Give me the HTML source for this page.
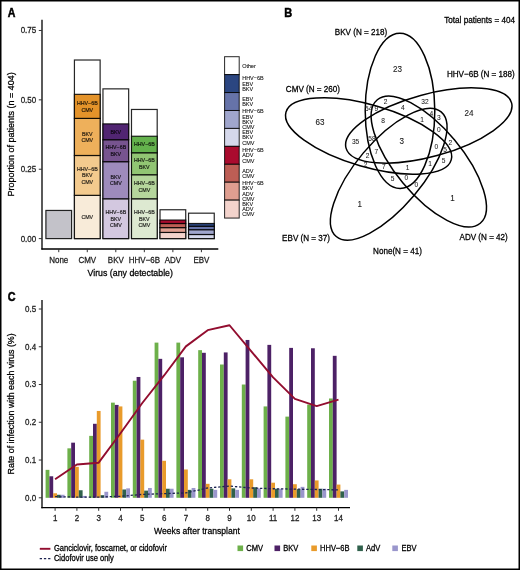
<!DOCTYPE html>
<html><head><meta charset="utf-8"><style>
html,body{margin:0;padding:0;background:#fff;overflow:hidden;}
svg{display:block;will-change:transform;}
text{font-family:"Liberation Sans",sans-serif;}
</style></head><body>
<svg width="520" height="570" viewBox="0 0 520 570" font-family="Liberation Sans, sans-serif">
<rect width="520" height="570" fill="#fff"/>
<text transform="translate(7.70,16.70) scale(1,1.12)" font-size="10.6" text-anchor="start" fill="#000" stroke="#000" stroke-width="0.45" font-weight="bold" >A</text>
<line x1="42.00" y1="19.80" x2="42.00" y2="249.60" stroke="#000" stroke-width="1.3" />
<line x1="41.35" y1="249.00" x2="218.30" y2="249.00" stroke="#000" stroke-width="1.3" />
<line x1="38.80" y1="30.47" x2="42.00" y2="30.47" stroke="#333" stroke-width="1.0" />
<text transform="translate(36.20,33.37) scale(1,1.1)" font-size="8.0" text-anchor="end" fill="#222" stroke="#222" stroke-width="0.25" font-weight="normal" >0.75</text>
<line x1="38.80" y1="99.85" x2="42.00" y2="99.85" stroke="#333" stroke-width="1.0" />
<text transform="translate(36.20,102.75) scale(1,1.1)" font-size="8.0" text-anchor="end" fill="#222" stroke="#222" stroke-width="0.25" font-weight="normal" >0.50</text>
<line x1="38.80" y1="169.22" x2="42.00" y2="169.22" stroke="#333" stroke-width="1.0" />
<text transform="translate(36.20,172.12) scale(1,1.1)" font-size="8.0" text-anchor="end" fill="#222" stroke="#222" stroke-width="0.25" font-weight="normal" >0.25</text>
<line x1="38.80" y1="238.60" x2="42.00" y2="238.60" stroke="#333" stroke-width="1.0" />
<text transform="translate(36.20,241.50) scale(1,1.1)" font-size="8.0" text-anchor="end" fill="#222" stroke="#222" stroke-width="0.25" font-weight="normal" >0.00</text>
<line x1="58.75" y1="249.00" x2="58.75" y2="252.20" stroke="#333" stroke-width="1.0" />
<text transform="translate(58.75,262.70) scale(1,1.1)" font-size="8.0" text-anchor="middle" fill="#222" stroke="#222" stroke-width="0.25" font-weight="normal" >None</text>
<line x1="87.28" y1="249.00" x2="87.28" y2="252.20" stroke="#333" stroke-width="1.0" />
<text transform="translate(87.28,262.70) scale(1,1.1)" font-size="8.0" text-anchor="middle" fill="#222" stroke="#222" stroke-width="0.25" font-weight="normal" >CMV</text>
<line x1="115.81" y1="249.00" x2="115.81" y2="252.20" stroke="#333" stroke-width="1.0" />
<text transform="translate(115.81,262.70) scale(1,1.1)" font-size="8.0" text-anchor="middle" fill="#222" stroke="#222" stroke-width="0.25" font-weight="normal" >BKV</text>
<line x1="144.34" y1="249.00" x2="144.34" y2="252.20" stroke="#333" stroke-width="1.0" />
<text transform="translate(144.34,262.70) scale(1,1.1)" font-size="8.0" text-anchor="middle" fill="#222" stroke="#222" stroke-width="0.25" font-weight="normal" >HHV−6B</text>
<line x1="172.87" y1="249.00" x2="172.87" y2="252.20" stroke="#333" stroke-width="1.0" />
<text transform="translate(172.87,262.70) scale(1,1.1)" font-size="8.0" text-anchor="middle" fill="#222" stroke="#222" stroke-width="0.25" font-weight="normal" >ADV</text>
<line x1="201.40" y1="249.00" x2="201.40" y2="252.20" stroke="#333" stroke-width="1.0" />
<text transform="translate(201.40,262.70) scale(1,1.1)" font-size="8.0" text-anchor="middle" fill="#222" stroke="#222" stroke-width="0.25" font-weight="normal" >EBV</text>
<text transform="translate(130.20,276.00) scale(1,1.1)" font-size="8.8" text-anchor="middle" fill="#000" stroke="#000" stroke-width="0.25" font-weight="normal" >Virus (any detectable)</text>
<text transform="translate(14.10,134.40) rotate(-90) scale(1,1.1)" font-size="9.0" text-anchor="middle" fill="#000" stroke="#000" stroke-width="0.25" font-weight="normal" >Proportion of patients (n = 404)</text>
<rect x="45.90" y="210.44" width="25.70" height="28.16" fill="#c3c2c9" stroke="rgba(0,0,0,0.85)" stroke-width="1.2" />
<rect x="74.43" y="60.01" width="25.70" height="178.59" fill="#ffffff" stroke="rgba(0,0,0,0.85)" stroke-width="1.2" />
<rect x="74.43" y="195.33" width="25.70" height="43.27" fill="#f8ebd9" stroke="rgba(0,0,0,0.85)" stroke-width="1.2" />
<text transform="translate(87.28,218.86) scale(1,1.1)" font-size="5.3" text-anchor="middle" fill="#000" stroke="#000" stroke-width="0.2" font-weight="normal" fill-opacity="0.8" stroke-opacity="0.8">CMV</text>
<rect x="74.43" y="155.49" width="25.70" height="39.84" fill="#f3ca8e" stroke="rgba(0,0,0,0.85)" stroke-width="1.2" />
<text transform="translate(87.28,170.71) scale(1,1.1)" font-size="5.3" text-anchor="middle" fill="#000" stroke="#000" stroke-width="0.2" font-weight="normal" fill-opacity="0.8" stroke-opacity="0.8">HHV−6B</text>
<text transform="translate(87.28,177.31) scale(1,1.1)" font-size="5.3" text-anchor="middle" fill="#000" stroke="#000" stroke-width="0.2" font-weight="normal" fill-opacity="0.8" stroke-opacity="0.8">BKV</text>
<text transform="translate(87.28,183.91) scale(1,1.1)" font-size="5.3" text-anchor="middle" fill="#000" stroke="#000" stroke-width="0.2" font-weight="normal" fill-opacity="0.8" stroke-opacity="0.8">CMV</text>
<rect x="74.43" y="118.39" width="25.70" height="37.09" fill="#eeb05b" stroke="rgba(0,0,0,0.85)" stroke-width="1.2" />
<text transform="translate(87.28,135.54) scale(1,1.1)" font-size="5.3" text-anchor="middle" fill="#000" stroke="#000" stroke-width="0.2" font-weight="normal" fill-opacity="0.8" stroke-opacity="0.8">BKV</text>
<text transform="translate(87.28,142.14) scale(1,1.1)" font-size="5.3" text-anchor="middle" fill="#000" stroke="#000" stroke-width="0.2" font-weight="normal" fill-opacity="0.8" stroke-opacity="0.8">CMV</text>
<rect x="74.43" y="94.35" width="25.70" height="24.04" fill="#e4932a" stroke="rgba(0,0,0,0.85)" stroke-width="1.2" />
<text transform="translate(87.28,104.97) scale(1,1.1)" font-size="5.3" text-anchor="middle" fill="#000" stroke="#000" stroke-width="0.2" font-weight="normal" fill-opacity="0.8" stroke-opacity="0.8">HHV−6B</text>
<text transform="translate(87.28,111.57) scale(1,1.1)" font-size="5.3" text-anchor="middle" fill="#000" stroke="#000" stroke-width="0.2" font-weight="normal" fill-opacity="0.8" stroke-opacity="0.8">CMV</text>
<rect x="102.96" y="88.86" width="25.70" height="149.74" fill="#ffffff" stroke="rgba(0,0,0,0.85)" stroke-width="1.2" />
<rect x="102.96" y="198.76" width="25.70" height="39.84" fill="#d3c8e0" stroke="rgba(0,0,0,0.85)" stroke-width="1.2" />
<text transform="translate(115.81,213.98) scale(1,1.1)" font-size="5.3" text-anchor="middle" fill="#000" stroke="#000" stroke-width="0.2" font-weight="normal" fill-opacity="0.8" stroke-opacity="0.8">HHV−6B</text>
<text transform="translate(115.81,220.58) scale(1,1.1)" font-size="5.3" text-anchor="middle" fill="#000" stroke="#000" stroke-width="0.2" font-weight="normal" fill-opacity="0.8" stroke-opacity="0.8">BKV</text>
<text transform="translate(115.81,227.18) scale(1,1.1)" font-size="5.3" text-anchor="middle" fill="#000" stroke="#000" stroke-width="0.2" font-weight="normal" fill-opacity="0.8" stroke-opacity="0.8">CMV</text>
<rect x="102.96" y="161.67" width="25.70" height="37.09" fill="#9e8bbc" stroke="rgba(0,0,0,0.85)" stroke-width="1.2" />
<text transform="translate(115.81,178.81) scale(1,1.1)" font-size="5.3" text-anchor="middle" fill="#000" stroke="#000" stroke-width="0.2" font-weight="normal" fill-opacity="0.8" stroke-opacity="0.8">BKV</text>
<text transform="translate(115.81,185.41) scale(1,1.1)" font-size="5.3" text-anchor="middle" fill="#000" stroke="#000" stroke-width="0.2" font-weight="normal" fill-opacity="0.8" stroke-opacity="0.8">CMV</text>
<rect x="102.96" y="139.69" width="25.70" height="21.98" fill="#77548f" stroke="rgba(0,0,0,0.85)" stroke-width="1.2" />
<text transform="translate(115.81,149.28) scale(1,1.1)" font-size="5.3" text-anchor="middle" fill="#000" stroke="#000" stroke-width="0.2" font-weight="normal" fill-opacity="0.8" stroke-opacity="0.8">HHV−6B</text>
<text transform="translate(115.81,155.88) scale(1,1.1)" font-size="5.3" text-anchor="middle" fill="#000" stroke="#000" stroke-width="0.2" font-weight="normal" fill-opacity="0.8" stroke-opacity="0.8">BKV</text>
<rect x="102.96" y="123.89" width="25.70" height="15.80" fill="#512572" stroke="rgba(0,0,0,0.85)" stroke-width="1.2" />
<text transform="translate(115.81,133.69) scale(1,1.1)" font-size="5.3" text-anchor="middle" fill="#000" stroke="#000" stroke-width="0.2" font-weight="normal" fill-opacity="0.8" stroke-opacity="0.8">BKV</text>
<rect x="131.49" y="109.46" width="25.70" height="129.14" fill="#ffffff" stroke="rgba(0,0,0,0.85)" stroke-width="1.2" />
<rect x="131.49" y="198.76" width="25.70" height="39.84" fill="#dde9d1" stroke="rgba(0,0,0,0.85)" stroke-width="1.2" />
<text transform="translate(144.34,213.98) scale(1,1.1)" font-size="5.3" text-anchor="middle" fill="#000" stroke="#000" stroke-width="0.2" font-weight="normal" fill-opacity="0.8" stroke-opacity="0.8">HHV−6B</text>
<text transform="translate(144.34,220.58) scale(1,1.1)" font-size="5.3" text-anchor="middle" fill="#000" stroke="#000" stroke-width="0.2" font-weight="normal" fill-opacity="0.8" stroke-opacity="0.8">BKV</text>
<text transform="translate(144.34,227.18) scale(1,1.1)" font-size="5.3" text-anchor="middle" fill="#000" stroke="#000" stroke-width="0.2" font-weight="normal" fill-opacity="0.8" stroke-opacity="0.8">CMV</text>
<rect x="131.49" y="174.72" width="25.70" height="24.04" fill="#b5d69c" stroke="rgba(0,0,0,0.85)" stroke-width="1.2" />
<text transform="translate(144.34,185.34) scale(1,1.1)" font-size="5.3" text-anchor="middle" fill="#000" stroke="#000" stroke-width="0.2" font-weight="normal" fill-opacity="0.8" stroke-opacity="0.8">HHV−6B</text>
<text transform="translate(144.34,191.94) scale(1,1.1)" font-size="5.3" text-anchor="middle" fill="#000" stroke="#000" stroke-width="0.2" font-weight="normal" fill-opacity="0.8" stroke-opacity="0.8">CMV</text>
<rect x="131.49" y="152.74" width="25.70" height="21.98" fill="#91c573" stroke="rgba(0,0,0,0.85)" stroke-width="1.2" />
<text transform="translate(144.34,162.33) scale(1,1.1)" font-size="5.3" text-anchor="middle" fill="#000" stroke="#000" stroke-width="0.2" font-weight="normal" fill-opacity="0.8" stroke-opacity="0.8">HHV−6B</text>
<text transform="translate(144.34,168.93) scale(1,1.1)" font-size="5.3" text-anchor="middle" fill="#000" stroke="#000" stroke-width="0.2" font-weight="normal" fill-opacity="0.8" stroke-opacity="0.8">BKV</text>
<rect x="131.49" y="136.25" width="25.70" height="16.49" fill="#64b24d" stroke="rgba(0,0,0,0.85)" stroke-width="1.2" />
<text transform="translate(144.34,146.39) scale(1,1.1)" font-size="5.3" text-anchor="middle" fill="#000" stroke="#000" stroke-width="0.2" font-weight="normal" fill-opacity="0.8" stroke-opacity="0.8">HHV−6B</text>
<rect x="160.02" y="209.75" width="25.70" height="28.85" fill="#ffffff" stroke="rgba(0,0,0,0.85)" stroke-width="1.2" />
<rect x="160.02" y="232.42" width="25.70" height="6.18" fill="#f3d3cc" stroke="rgba(0,0,0,0.85)" stroke-width="1.2" />
<rect x="160.02" y="227.61" width="25.70" height="4.81" fill="#df9e90" stroke="rgba(0,0,0,0.85)" stroke-width="1.2" />
<rect x="160.02" y="223.49" width="25.70" height="4.12" fill="#bd5e55" stroke="rgba(0,0,0,0.85)" stroke-width="1.2" />
<rect x="160.02" y="220.05" width="25.70" height="3.43" fill="#aa0b2e" stroke="rgba(0,0,0,0.85)" stroke-width="1.2" />
<rect x="188.55" y="213.18" width="25.70" height="25.42" fill="#ffffff" stroke="rgba(0,0,0,0.85)" stroke-width="1.2" />
<rect x="188.55" y="234.48" width="25.70" height="4.12" fill="#d5d8eb" stroke="rgba(0,0,0,0.85)" stroke-width="1.2" />
<rect x="188.55" y="229.67" width="25.70" height="4.81" fill="#a0a6cd" stroke="rgba(0,0,0,0.85)" stroke-width="1.2" />
<rect x="188.55" y="226.24" width="25.70" height="3.43" fill="#6673a9" stroke="rgba(0,0,0,0.85)" stroke-width="1.2" />
<rect x="188.55" y="223.49" width="25.70" height="2.75" fill="#2b4681" stroke="rgba(0,0,0,0.85)" stroke-width="1.2" />
<rect x="224.60" y="56.70" width="14.60" height="17.93" fill="#ffffff" stroke="rgba(0,0,0,0.85)" stroke-width="1.0" />
<text transform="translate(242.20,67.57) scale(1,1.1)" font-size="5.5" text-anchor="start" fill="#000" stroke="#000" stroke-width="0.05" font-weight="normal" >Other</text>
<rect x="224.60" y="74.63" width="14.60" height="17.93" fill="#2b4681" stroke="rgba(0,0,0,0.85)" stroke-width="1.0" />
<text transform="translate(242.20,80.20) scale(1,1.1)" font-size="5.5" text-anchor="start" fill="#000" stroke="#000" stroke-width="0.05" font-weight="normal" >HHV−6B</text>
<text transform="translate(242.20,85.50) scale(1,1.1)" font-size="5.5" text-anchor="start" fill="#000" stroke="#000" stroke-width="0.05" font-weight="normal" >EBV</text>
<text transform="translate(242.20,90.80) scale(1,1.1)" font-size="5.5" text-anchor="start" fill="#000" stroke="#000" stroke-width="0.05" font-weight="normal" >BKV</text>
<rect x="224.60" y="92.56" width="14.60" height="17.93" fill="#6673a9" stroke="rgba(0,0,0,0.85)" stroke-width="1.0" />
<text transform="translate(242.20,100.78) scale(1,1.1)" font-size="5.5" text-anchor="start" fill="#000" stroke="#000" stroke-width="0.05" font-weight="normal" >EBV</text>
<text transform="translate(242.20,106.08) scale(1,1.1)" font-size="5.5" text-anchor="start" fill="#000" stroke="#000" stroke-width="0.05" font-weight="normal" >BKV</text>
<rect x="224.60" y="110.49" width="14.60" height="17.93" fill="#a0a6cd" stroke="rgba(0,0,0,0.85)" stroke-width="1.0" />
<text transform="translate(242.20,113.41) scale(1,1.1)" font-size="5.5" text-anchor="start" fill="#000" stroke="#000" stroke-width="0.05" font-weight="normal" >HHV−6B</text>
<text transform="translate(242.20,118.71) scale(1,1.1)" font-size="5.5" text-anchor="start" fill="#000" stroke="#000" stroke-width="0.05" font-weight="normal" >EBV</text>
<text transform="translate(242.20,124.01) scale(1,1.1)" font-size="5.5" text-anchor="start" fill="#000" stroke="#000" stroke-width="0.05" font-weight="normal" >BKV</text>
<text transform="translate(242.20,129.31) scale(1,1.1)" font-size="5.5" text-anchor="start" fill="#000" stroke="#000" stroke-width="0.05" font-weight="normal" >CMV</text>
<rect x="224.60" y="128.42" width="14.60" height="17.93" fill="#d5d8eb" stroke="rgba(0,0,0,0.85)" stroke-width="1.0" />
<text transform="translate(242.20,133.99) scale(1,1.1)" font-size="5.5" text-anchor="start" fill="#000" stroke="#000" stroke-width="0.05" font-weight="normal" >EBV</text>
<text transform="translate(242.20,139.29) scale(1,1.1)" font-size="5.5" text-anchor="start" fill="#000" stroke="#000" stroke-width="0.05" font-weight="normal" >BKV</text>
<text transform="translate(242.20,144.59) scale(1,1.1)" font-size="5.5" text-anchor="start" fill="#000" stroke="#000" stroke-width="0.05" font-weight="normal" >CMV</text>
<rect x="224.60" y="146.35" width="14.60" height="17.93" fill="#aa0b2e" stroke="rgba(0,0,0,0.85)" stroke-width="1.0" />
<text transform="translate(242.20,151.92) scale(1,1.1)" font-size="5.5" text-anchor="start" fill="#000" stroke="#000" stroke-width="0.05" font-weight="normal" >HHV−6B</text>
<text transform="translate(242.20,157.22) scale(1,1.1)" font-size="5.5" text-anchor="start" fill="#000" stroke="#000" stroke-width="0.05" font-weight="normal" >ADV</text>
<text transform="translate(242.20,162.52) scale(1,1.1)" font-size="5.5" text-anchor="start" fill="#000" stroke="#000" stroke-width="0.05" font-weight="normal" >CMV</text>
<rect x="224.60" y="164.28" width="14.60" height="17.93" fill="#bd5e55" stroke="rgba(0,0,0,0.85)" stroke-width="1.0" />
<text transform="translate(242.20,172.50) scale(1,1.1)" font-size="5.5" text-anchor="start" fill="#000" stroke="#000" stroke-width="0.05" font-weight="normal" >ADV</text>
<text transform="translate(242.20,177.80) scale(1,1.1)" font-size="5.5" text-anchor="start" fill="#000" stroke="#000" stroke-width="0.05" font-weight="normal" >CMV</text>
<rect x="224.60" y="182.21" width="14.60" height="17.93" fill="#df9e90" stroke="rgba(0,0,0,0.85)" stroke-width="1.0" />
<text transform="translate(242.20,185.12) scale(1,1.1)" font-size="5.5" text-anchor="start" fill="#000" stroke="#000" stroke-width="0.05" font-weight="normal" >HHV−6B</text>
<text transform="translate(242.20,190.43) scale(1,1.1)" font-size="5.5" text-anchor="start" fill="#000" stroke="#000" stroke-width="0.05" font-weight="normal" >BKV</text>
<text transform="translate(242.20,195.72) scale(1,1.1)" font-size="5.5" text-anchor="start" fill="#000" stroke="#000" stroke-width="0.05" font-weight="normal" >ADV</text>
<text transform="translate(242.20,201.03) scale(1,1.1)" font-size="5.5" text-anchor="start" fill="#000" stroke="#000" stroke-width="0.05" font-weight="normal" >CMV</text>
<rect x="224.60" y="200.14" width="14.60" height="17.93" fill="#f3d3cc" stroke="rgba(0,0,0,0.85)" stroke-width="1.0" />
<text transform="translate(242.20,205.70) scale(1,1.1)" font-size="5.5" text-anchor="start" fill="#000" stroke="#000" stroke-width="0.05" font-weight="normal" >BKV</text>
<text transform="translate(242.20,211.00) scale(1,1.1)" font-size="5.5" text-anchor="start" fill="#000" stroke="#000" stroke-width="0.05" font-weight="normal" >ADV</text>
<text transform="translate(242.20,216.30) scale(1,1.1)" font-size="5.5" text-anchor="start" fill="#000" stroke="#000" stroke-width="0.05" font-weight="normal" >CMV</text>
<text transform="translate(284.30,16.70) scale(1,1.12)" font-size="11.0" text-anchor="start" fill="#000" stroke="#000" stroke-width="0.45" font-weight="bold" >B</text>
<text transform="translate(515.00,23.00) scale(1,1.1)" font-size="8.15" text-anchor="end" fill="#000" stroke="#000" stroke-width="0.25" font-weight="normal" >Total patients = 404</text>
<ellipse cx="400.0" cy="110.8" rx="77.6" ry="34.8" transform="rotate(89.9 400.0 110.8)" fill="none" stroke="#000" stroke-width="1.5"/>
<ellipse cx="368.6" cy="136.0" rx="86.0" ry="31.0" transform="rotate(16.1 368.6 136.0)" fill="none" stroke="#000" stroke-width="1.5"/>
<ellipse cx="428.8" cy="125.5" rx="85.8" ry="31.2" transform="rotate(-15.3 428.8 125.5)" fill="none" stroke="#000" stroke-width="1.5"/>
<ellipse cx="388.7" cy="174.2" rx="81.4" ry="33.1" transform="rotate(-49.9 388.7 174.2)" fill="none" stroke="#000" stroke-width="1.5"/>
<ellipse cx="428.8" cy="161.5" rx="80.4" ry="33.6" transform="rotate(50.2 428.8 161.5)" fill="none" stroke="#000" stroke-width="1.5"/>
<text transform="translate(334.80,34.70) scale(1,1.1)" font-size="8.1" text-anchor="start" fill="#000" stroke="#000" stroke-width="0.25" font-weight="normal" >BKV (N = 218)</text>
<text transform="translate(285.80,91.50) scale(1,1.1)" font-size="8.1" text-anchor="start" fill="#000" stroke="#000" stroke-width="0.25" font-weight="normal" >CMV (N = 260)</text>
<text transform="translate(446.90,77.40) scale(1,1.1)" font-size="8.1" text-anchor="start" fill="#000" stroke="#000" stroke-width="0.25" font-weight="normal" >HHV−6B (N = 188)</text>
<text transform="translate(282.10,241.00) scale(1,1.1)" font-size="8.1" text-anchor="start" fill="#000" stroke="#000" stroke-width="0.25" font-weight="normal" >EBV (N = 37)</text>
<text transform="translate(459.50,240.20) scale(1,1.1)" font-size="8.1" text-anchor="start" fill="#000" stroke="#000" stroke-width="0.25" font-weight="normal" >ADV (N = 42)</text>
<text transform="translate(373.10,254.10) scale(1,1.1)" font-size="8.1" text-anchor="start" fill="#000" stroke="#000" stroke-width="0.25" font-weight="normal" >None(N = 41)</text>
<text transform="translate(397.50,71.82) scale(1,1.1)" font-size="8.1" text-anchor="middle" fill="#1a1a1a" stroke="#1a1a1a" stroke-width="0.1" font-weight="normal" >23</text>
<text transform="translate(320.00,124.82) scale(1,1.1)" font-size="8.1" text-anchor="middle" fill="#1a1a1a" stroke="#1a1a1a" stroke-width="0.1" font-weight="normal" >63</text>
<text transform="translate(469.00,115.62) scale(1,1.1)" font-size="8.1" text-anchor="middle" fill="#1a1a1a" stroke="#1a1a1a" stroke-width="0.1" font-weight="normal" >24</text>
<text transform="translate(359.70,207.42) scale(1,1.1)" font-size="8.1" text-anchor="middle" fill="#1a1a1a" stroke="#1a1a1a" stroke-width="0.1" font-weight="normal" >1</text>
<text transform="translate(452.50,200.82) scale(1,1.1)" font-size="8.1" text-anchor="middle" fill="#1a1a1a" stroke="#1a1a1a" stroke-width="0.1" font-weight="normal" >1</text>
<text transform="translate(401.75,143.67) scale(1,1.1)" font-size="8.1" text-anchor="middle" fill="#1a1a1a" stroke="#1a1a1a" stroke-width="0.1" font-weight="normal" >3</text>
<text transform="translate(355.60,143.88) scale(1,1.1)" font-size="6.6" text-anchor="middle" fill="#1a1a1a" stroke="#1a1a1a" stroke-width="0.05" font-weight="normal" >35</text>
<text transform="translate(385.50,104.08) scale(1,1.1)" font-size="6.6" text-anchor="middle" fill="#1a1a1a" stroke="#1a1a1a" stroke-width="0.05" font-weight="normal" >2</text>
<text transform="translate(402.80,110.18) scale(1,1.1)" font-size="6.6" text-anchor="middle" fill="#1a1a1a" stroke="#1a1a1a" stroke-width="0.05" font-weight="normal" >4</text>
<text transform="translate(383.10,122.68) scale(1,1.1)" font-size="6.6" text-anchor="middle" fill="#1a1a1a" stroke="#1a1a1a" stroke-width="0.05" font-weight="normal" >8</text>
<text transform="translate(368.75,110.63) scale(1,1.1)" font-size="6.6" text-anchor="middle" fill="#1a1a1a" stroke="#1a1a1a" stroke-width="0.05" font-weight="normal" >54</text>
<text transform="translate(376.25,111.13) scale(1,1.1)" font-size="6.6" text-anchor="middle" fill="#1a1a1a" stroke="#1a1a1a" stroke-width="0.05" font-weight="normal" >9</text>
<text transform="translate(371.90,140.88) scale(1,1.1)" font-size="6.6" text-anchor="middle" fill="#1a1a1a" stroke="#1a1a1a" stroke-width="0.05" font-weight="normal" >58</text>
<text transform="translate(376.25,154.28) scale(1,1.1)" font-size="6.6" text-anchor="middle" fill="#1a1a1a" stroke="#1a1a1a" stroke-width="0.05" font-weight="normal" >7</text>
<text transform="translate(367.50,157.98) scale(1,1.1)" font-size="6.6" text-anchor="middle" fill="#1a1a1a" stroke="#1a1a1a" stroke-width="0.05" font-weight="normal" >2</text>
<text transform="translate(365.60,167.13) scale(1,1.1)" font-size="6.6" text-anchor="middle" fill="#1a1a1a" stroke="#1a1a1a" stroke-width="0.05" font-weight="normal" >2</text>
<text transform="translate(383.75,169.28) scale(1,1.1)" font-size="6.6" text-anchor="middle" fill="#1a1a1a" stroke="#1a1a1a" stroke-width="0.05" font-weight="normal" >7</text>
<text transform="translate(407.50,170.48) scale(1,1.1)" font-size="6.6" text-anchor="middle" fill="#1a1a1a" stroke="#1a1a1a" stroke-width="0.05" font-weight="normal" >1</text>
<text transform="translate(392.50,181.13) scale(1,1.1)" font-size="6.6" text-anchor="middle" fill="#1a1a1a" stroke="#1a1a1a" stroke-width="0.05" font-weight="normal" >5</text>
<text transform="translate(406.25,180.48) scale(1,1.1)" font-size="6.6" text-anchor="middle" fill="#1a1a1a" stroke="#1a1a1a" stroke-width="0.05" font-weight="normal" >0</text>
<text transform="translate(416.25,187.38) scale(1,1.1)" font-size="6.6" text-anchor="middle" fill="#1a1a1a" stroke="#1a1a1a" stroke-width="0.05" font-weight="normal" >0</text>
<text transform="translate(425.00,103.68) scale(1,1.1)" font-size="6.6" text-anchor="middle" fill="#1a1a1a" stroke="#1a1a1a" stroke-width="0.05" font-weight="normal" >32</text>
<text transform="translate(431.30,116.08) scale(1,1.1)" font-size="6.6" text-anchor="middle" fill="#1a1a1a" stroke="#1a1a1a" stroke-width="0.05" font-weight="normal" >4</text>
<text transform="translate(438.80,119.88) scale(1,1.1)" font-size="6.6" text-anchor="middle" fill="#1a1a1a" stroke="#1a1a1a" stroke-width="0.05" font-weight="normal" >3</text>
<text transform="translate(422.10,122.18) scale(1,1.1)" font-size="6.6" text-anchor="middle" fill="#1a1a1a" stroke="#1a1a1a" stroke-width="0.05" font-weight="normal" >1</text>
<text transform="translate(438.80,132.18) scale(1,1.1)" font-size="6.6" text-anchor="middle" fill="#1a1a1a" stroke="#1a1a1a" stroke-width="0.05" font-weight="normal" >0</text>
<text transform="translate(450.40,144.88) scale(1,1.1)" font-size="6.6" text-anchor="middle" fill="#1a1a1a" stroke="#1a1a1a" stroke-width="0.05" font-weight="normal" >2</text>
<text transform="translate(445.20,151.78) scale(1,1.1)" font-size="6.6" text-anchor="middle" fill="#1a1a1a" stroke="#1a1a1a" stroke-width="0.05" font-weight="normal" >5</text>
<text transform="translate(443.50,162.78) scale(1,1.1)" font-size="6.6" text-anchor="middle" fill="#1a1a1a" stroke="#1a1a1a" stroke-width="0.05" font-weight="normal" >5</text>
<text transform="translate(436.25,148.63) scale(1,1.1)" font-size="6.6" text-anchor="middle" fill="#1a1a1a" stroke="#1a1a1a" stroke-width="0.05" font-weight="normal" >0</text>
<text transform="translate(430.20,166.18) scale(1,1.1)" font-size="6.6" text-anchor="middle" fill="#1a1a1a" stroke="#1a1a1a" stroke-width="0.05" font-weight="normal" >1</text>
<text transform="translate(7.70,300.90) scale(1,1.15)" font-size="10.8" text-anchor="start" fill="#000" stroke="#000" stroke-width="0.45" font-weight="bold" >C</text>
<line x1="42.00" y1="300.10" x2="42.00" y2="508.20" stroke="#000" stroke-width="1.3" />
<line x1="41.35" y1="507.60" x2="350.00" y2="507.60" stroke="#000" stroke-width="1.3" />
<line x1="38.80" y1="497.80" x2="42.00" y2="497.80" stroke="#333" stroke-width="1.0" />
<text transform="translate(36.20,500.70) scale(1,1.1)" font-size="8.0" text-anchor="end" fill="#222" stroke="#222" stroke-width="0.25" font-weight="normal" >0.0</text>
<line x1="38.80" y1="460.04" x2="42.00" y2="460.04" stroke="#333" stroke-width="1.0" />
<text transform="translate(36.20,462.94) scale(1,1.1)" font-size="8.0" text-anchor="end" fill="#222" stroke="#222" stroke-width="0.25" font-weight="normal" >0.1</text>
<line x1="38.80" y1="422.28" x2="42.00" y2="422.28" stroke="#333" stroke-width="1.0" />
<text transform="translate(36.20,425.18) scale(1,1.1)" font-size="8.0" text-anchor="end" fill="#222" stroke="#222" stroke-width="0.25" font-weight="normal" >0.2</text>
<line x1="38.80" y1="384.52" x2="42.00" y2="384.52" stroke="#333" stroke-width="1.0" />
<text transform="translate(36.20,387.42) scale(1,1.1)" font-size="8.0" text-anchor="end" fill="#222" stroke="#222" stroke-width="0.25" font-weight="normal" >0.3</text>
<line x1="38.80" y1="346.76" x2="42.00" y2="346.76" stroke="#333" stroke-width="1.0" />
<text transform="translate(36.20,349.66) scale(1,1.1)" font-size="8.0" text-anchor="end" fill="#222" stroke="#222" stroke-width="0.25" font-weight="normal" >0.4</text>
<line x1="38.80" y1="309.00" x2="42.00" y2="309.00" stroke="#333" stroke-width="1.0" />
<text transform="translate(36.20,311.90) scale(1,1.1)" font-size="8.0" text-anchor="end" fill="#222" stroke="#222" stroke-width="0.25" font-weight="normal" >0.5</text>
<line x1="55.10" y1="507.60" x2="55.10" y2="510.80" stroke="#333" stroke-width="1.0" />
<text transform="translate(55.10,520.90) scale(1,1.1)" font-size="8.0" text-anchor="middle" fill="#222" stroke="#222" stroke-width="0.25" font-weight="normal" >1</text>
<line x1="76.90" y1="507.60" x2="76.90" y2="510.80" stroke="#333" stroke-width="1.0" />
<text transform="translate(76.90,520.90) scale(1,1.1)" font-size="8.0" text-anchor="middle" fill="#222" stroke="#222" stroke-width="0.25" font-weight="normal" >2</text>
<line x1="98.70" y1="507.60" x2="98.70" y2="510.80" stroke="#333" stroke-width="1.0" />
<text transform="translate(98.70,520.90) scale(1,1.1)" font-size="8.0" text-anchor="middle" fill="#222" stroke="#222" stroke-width="0.25" font-weight="normal" >3</text>
<line x1="120.50" y1="507.60" x2="120.50" y2="510.80" stroke="#333" stroke-width="1.0" />
<text transform="translate(120.50,520.90) scale(1,1.1)" font-size="8.0" text-anchor="middle" fill="#222" stroke="#222" stroke-width="0.25" font-weight="normal" >4</text>
<line x1="142.30" y1="507.60" x2="142.30" y2="510.80" stroke="#333" stroke-width="1.0" />
<text transform="translate(142.30,520.90) scale(1,1.1)" font-size="8.0" text-anchor="middle" fill="#222" stroke="#222" stroke-width="0.25" font-weight="normal" >5</text>
<line x1="164.10" y1="507.60" x2="164.10" y2="510.80" stroke="#333" stroke-width="1.0" />
<text transform="translate(164.10,520.90) scale(1,1.1)" font-size="8.0" text-anchor="middle" fill="#222" stroke="#222" stroke-width="0.25" font-weight="normal" >6</text>
<line x1="185.90" y1="507.60" x2="185.90" y2="510.80" stroke="#333" stroke-width="1.0" />
<text transform="translate(185.90,520.90) scale(1,1.1)" font-size="8.0" text-anchor="middle" fill="#222" stroke="#222" stroke-width="0.25" font-weight="normal" >7</text>
<line x1="207.70" y1="507.60" x2="207.70" y2="510.80" stroke="#333" stroke-width="1.0" />
<text transform="translate(207.70,520.90) scale(1,1.1)" font-size="8.0" text-anchor="middle" fill="#222" stroke="#222" stroke-width="0.25" font-weight="normal" >8</text>
<line x1="229.50" y1="507.60" x2="229.50" y2="510.80" stroke="#333" stroke-width="1.0" />
<text transform="translate(229.50,520.90) scale(1,1.1)" font-size="8.0" text-anchor="middle" fill="#222" stroke="#222" stroke-width="0.25" font-weight="normal" >9</text>
<line x1="251.30" y1="507.60" x2="251.30" y2="510.80" stroke="#333" stroke-width="1.0" />
<text transform="translate(251.30,520.90) scale(1,1.1)" font-size="8.0" text-anchor="middle" fill="#222" stroke="#222" stroke-width="0.25" font-weight="normal" >10</text>
<line x1="273.10" y1="507.60" x2="273.10" y2="510.80" stroke="#333" stroke-width="1.0" />
<text transform="translate(273.10,520.90) scale(1,1.1)" font-size="8.0" text-anchor="middle" fill="#222" stroke="#222" stroke-width="0.25" font-weight="normal" >11</text>
<line x1="294.90" y1="507.60" x2="294.90" y2="510.80" stroke="#333" stroke-width="1.0" />
<text transform="translate(294.90,520.90) scale(1,1.1)" font-size="8.0" text-anchor="middle" fill="#222" stroke="#222" stroke-width="0.25" font-weight="normal" >12</text>
<line x1="316.70" y1="507.60" x2="316.70" y2="510.80" stroke="#333" stroke-width="1.0" />
<text transform="translate(316.70,520.90) scale(1,1.1)" font-size="8.0" text-anchor="middle" fill="#222" stroke="#222" stroke-width="0.25" font-weight="normal" >13</text>
<line x1="338.50" y1="507.60" x2="338.50" y2="510.80" stroke="#333" stroke-width="1.0" />
<text transform="translate(338.50,520.90) scale(1,1.1)" font-size="8.0" text-anchor="middle" fill="#222" stroke="#222" stroke-width="0.25" font-weight="normal" >14</text>
<text transform="translate(197.00,533.50) scale(1,1.1)" font-size="8.6" text-anchor="middle" fill="#000" stroke="#000" stroke-width="0.25" font-weight="normal" >Weeks after transplant</text>
<text transform="translate(14.40,403.90) rotate(-90) scale(1,1.1)" font-size="8.85" text-anchor="middle" fill="#000" stroke="#000" stroke-width="0.25" font-weight="normal" >Rate of infection with each virus (%)</text>
<rect x="45.60" y="469.86" width="3.80" height="27.94" fill="#6db04a" stroke="none" stroke-width="0" />
<rect x="49.40" y="476.28" width="3.80" height="21.52" fill="#4d2166" stroke="none" stroke-width="0" />
<rect x="53.20" y="493.27" width="3.80" height="4.53" fill="#e99b2b" stroke="none" stroke-width="0" />
<rect x="57.00" y="494.78" width="3.80" height="3.02" fill="#30614c" stroke="none" stroke-width="0" />
<rect x="60.80" y="494.78" width="3.80" height="3.02" fill="#9a96cc" stroke="none" stroke-width="0" />
<rect x="67.40" y="448.33" width="3.80" height="49.47" fill="#6db04a" stroke="none" stroke-width="0" />
<rect x="71.20" y="442.67" width="3.80" height="55.13" fill="#4d2166" stroke="none" stroke-width="0" />
<rect x="75.00" y="466.84" width="3.80" height="30.96" fill="#e99b2b" stroke="none" stroke-width="0" />
<rect x="78.80" y="490.25" width="3.80" height="7.55" fill="#30614c" stroke="none" stroke-width="0" />
<rect x="82.60" y="495.91" width="3.80" height="1.89" fill="#9a96cc" stroke="none" stroke-width="0" />
<rect x="89.20" y="435.87" width="3.80" height="61.93" fill="#6db04a" stroke="none" stroke-width="0" />
<rect x="93.00" y="423.79" width="3.80" height="74.01" fill="#4d2166" stroke="none" stroke-width="0" />
<rect x="96.80" y="410.95" width="3.80" height="86.85" fill="#e99b2b" stroke="none" stroke-width="0" />
<rect x="100.60" y="495.16" width="3.80" height="2.64" fill="#30614c" stroke="none" stroke-width="0" />
<rect x="104.40" y="491.76" width="3.80" height="6.04" fill="#9a96cc" stroke="none" stroke-width="0" />
<rect x="111.00" y="402.64" width="3.80" height="95.16" fill="#6db04a" stroke="none" stroke-width="0" />
<rect x="114.80" y="404.91" width="3.80" height="92.89" fill="#4d2166" stroke="none" stroke-width="0" />
<rect x="118.60" y="406.42" width="3.80" height="91.38" fill="#e99b2b" stroke="none" stroke-width="0" />
<rect x="122.40" y="489.49" width="3.80" height="8.31" fill="#30614c" stroke="none" stroke-width="0" />
<rect x="126.20" y="488.36" width="3.80" height="9.44" fill="#9a96cc" stroke="none" stroke-width="0" />
<rect x="132.80" y="380.74" width="3.80" height="117.06" fill="#6db04a" stroke="none" stroke-width="0" />
<rect x="136.60" y="376.97" width="3.80" height="120.83" fill="#4d2166" stroke="none" stroke-width="0" />
<rect x="140.40" y="439.65" width="3.80" height="58.15" fill="#e99b2b" stroke="none" stroke-width="0" />
<rect x="144.20" y="490.63" width="3.80" height="7.17" fill="#30614c" stroke="none" stroke-width="0" />
<rect x="148.00" y="487.98" width="3.80" height="9.82" fill="#9a96cc" stroke="none" stroke-width="0" />
<rect x="154.60" y="342.61" width="3.80" height="155.19" fill="#6db04a" stroke="none" stroke-width="0" />
<rect x="158.40" y="358.84" width="3.80" height="138.96" fill="#4d2166" stroke="none" stroke-width="0" />
<rect x="162.20" y="460.80" width="3.80" height="37.00" fill="#e99b2b" stroke="none" stroke-width="0" />
<rect x="166.00" y="488.74" width="3.80" height="9.06" fill="#30614c" stroke="none" stroke-width="0" />
<rect x="169.80" y="488.74" width="3.80" height="9.06" fill="#9a96cc" stroke="none" stroke-width="0" />
<rect x="176.40" y="342.61" width="3.80" height="155.19" fill="#6db04a" stroke="none" stroke-width="0" />
<rect x="180.20" y="357.33" width="3.80" height="140.47" fill="#4d2166" stroke="none" stroke-width="0" />
<rect x="184.00" y="469.48" width="3.80" height="28.32" fill="#e99b2b" stroke="none" stroke-width="0" />
<rect x="187.80" y="489.87" width="3.80" height="7.93" fill="#30614c" stroke="none" stroke-width="0" />
<rect x="191.60" y="487.98" width="3.80" height="9.82" fill="#9a96cc" stroke="none" stroke-width="0" />
<rect x="198.20" y="350.16" width="3.80" height="147.64" fill="#6db04a" stroke="none" stroke-width="0" />
<rect x="202.00" y="352.80" width="3.80" height="145.00" fill="#4d2166" stroke="none" stroke-width="0" />
<rect x="205.80" y="483.83" width="3.80" height="13.97" fill="#e99b2b" stroke="none" stroke-width="0" />
<rect x="209.60" y="488.74" width="3.80" height="9.06" fill="#30614c" stroke="none" stroke-width="0" />
<rect x="213.40" y="489.87" width="3.80" height="7.93" fill="#9a96cc" stroke="none" stroke-width="0" />
<rect x="220.00" y="364.51" width="3.80" height="133.29" fill="#6db04a" stroke="none" stroke-width="0" />
<rect x="223.80" y="352.42" width="3.80" height="145.38" fill="#4d2166" stroke="none" stroke-width="0" />
<rect x="227.60" y="479.30" width="3.80" height="18.50" fill="#e99b2b" stroke="none" stroke-width="0" />
<rect x="231.40" y="488.36" width="3.80" height="9.44" fill="#30614c" stroke="none" stroke-width="0" />
<rect x="235.20" y="489.87" width="3.80" height="7.93" fill="#9a96cc" stroke="none" stroke-width="0" />
<rect x="241.80" y="384.52" width="3.80" height="113.28" fill="#6db04a" stroke="none" stroke-width="0" />
<rect x="245.60" y="339.96" width="3.80" height="157.84" fill="#4d2166" stroke="none" stroke-width="0" />
<rect x="249.40" y="479.30" width="3.80" height="18.50" fill="#e99b2b" stroke="none" stroke-width="0" />
<rect x="253.20" y="487.23" width="3.80" height="10.57" fill="#30614c" stroke="none" stroke-width="0" />
<rect x="257.00" y="488.36" width="3.80" height="9.44" fill="#9a96cc" stroke="none" stroke-width="0" />
<rect x="263.60" y="406.42" width="3.80" height="91.38" fill="#6db04a" stroke="none" stroke-width="0" />
<rect x="267.40" y="344.87" width="3.80" height="152.93" fill="#4d2166" stroke="none" stroke-width="0" />
<rect x="271.20" y="482.70" width="3.80" height="15.10" fill="#e99b2b" stroke="none" stroke-width="0" />
<rect x="275.00" y="488.74" width="3.80" height="9.06" fill="#30614c" stroke="none" stroke-width="0" />
<rect x="278.80" y="488.74" width="3.80" height="9.06" fill="#9a96cc" stroke="none" stroke-width="0" />
<rect x="285.40" y="416.62" width="3.80" height="81.18" fill="#6db04a" stroke="none" stroke-width="0" />
<rect x="289.20" y="347.89" width="3.80" height="149.91" fill="#4d2166" stroke="none" stroke-width="0" />
<rect x="293.00" y="484.21" width="3.80" height="13.59" fill="#e99b2b" stroke="none" stroke-width="0" />
<rect x="296.80" y="489.12" width="3.80" height="8.68" fill="#30614c" stroke="none" stroke-width="0" />
<rect x="300.60" y="486.85" width="3.80" height="10.95" fill="#9a96cc" stroke="none" stroke-width="0" />
<rect x="307.20" y="404.53" width="3.80" height="93.27" fill="#6db04a" stroke="none" stroke-width="0" />
<rect x="311.00" y="348.27" width="3.80" height="149.53" fill="#4d2166" stroke="none" stroke-width="0" />
<rect x="314.80" y="480.43" width="3.80" height="17.37" fill="#e99b2b" stroke="none" stroke-width="0" />
<rect x="318.60" y="488.74" width="3.80" height="9.06" fill="#30614c" stroke="none" stroke-width="0" />
<rect x="322.40" y="488.74" width="3.80" height="9.06" fill="#9a96cc" stroke="none" stroke-width="0" />
<rect x="329.00" y="398.49" width="3.80" height="99.31" fill="#6db04a" stroke="none" stroke-width="0" />
<rect x="332.80" y="355.82" width="3.80" height="141.98" fill="#4d2166" stroke="none" stroke-width="0" />
<rect x="336.60" y="484.58" width="3.80" height="13.22" fill="#e99b2b" stroke="none" stroke-width="0" />
<rect x="340.40" y="491.38" width="3.80" height="6.42" fill="#30614c" stroke="none" stroke-width="0" />
<rect x="344.20" y="489.87" width="3.80" height="7.93" fill="#9a96cc" stroke="none" stroke-width="0" />
<polyline points="55.10,479.30 76.90,464.57 98.70,462.68 120.50,433.23 142.30,403.02 164.10,375.46 185.90,346.38 207.70,330.15 229.50,325.24 251.30,351.29 273.10,377.35 294.90,398.87 316.70,406.04 338.50,399.62" fill="none" stroke="#920d2f" stroke-width="1.9" stroke-linejoin="round"/>
<polyline points="55.10,496.67 76.90,497.04 98.70,497.04 120.50,496.29 142.30,494.40 164.10,493.65 185.90,492.89 207.70,487.98 229.50,486.09 251.30,487.98 273.10,488.74 294.90,489.12 316.70,489.49 338.50,489.87" fill="none" stroke="#1c2350" stroke-width="1.3" stroke-dasharray="2.3,1.9"/>
<line x1="39.80" y1="548.80" x2="50.40" y2="548.80" stroke="#920d2f" stroke-width="1.9" />
<text transform="translate(53.90,551.00) scale(1,1.1)" font-size="7.55" text-anchor="start" fill="#000" stroke="#000" stroke-width="0.25" font-weight="normal" >Ganciclovir, foscarnet, or cidofovir</text>
<line x1="39.70" y1="558.60" x2="50.80" y2="558.60" stroke="#1c2350" stroke-width="1.4" stroke-dasharray="2.3,1.9"/>
<text transform="translate(53.90,560.80) scale(1,1.1)" font-size="7.55" text-anchor="start" fill="#000" stroke="#000" stroke-width="0.25" font-weight="normal" >Cidofovir use only</text>
<rect x="237.50" y="545.50" width="5.60" height="5.60" fill="#6db04a" stroke="none" stroke-width="0" />
<text transform="translate(246.30,551.00) scale(1,1.1)" font-size="7.55" text-anchor="start" fill="#000" stroke="#000" stroke-width="0.25" font-weight="normal" >CMV</text>
<rect x="274.50" y="545.50" width="5.60" height="5.60" fill="#4d2166" stroke="none" stroke-width="0" />
<text transform="translate(283.30,551.00) scale(1,1.1)" font-size="7.55" text-anchor="start" fill="#000" stroke="#000" stroke-width="0.25" font-weight="normal" >BKV</text>
<rect x="311.30" y="545.50" width="5.60" height="5.60" fill="#e99b2b" stroke="none" stroke-width="0" />
<text transform="translate(320.00,551.00) scale(1,1.1)" font-size="7.55" text-anchor="start" fill="#000" stroke="#000" stroke-width="0.25" font-weight="normal" >HHV−6B</text>
<rect x="357.30" y="545.50" width="5.60" height="5.60" fill="#30614c" stroke="none" stroke-width="0" />
<text transform="translate(366.00,551.00) scale(1,1.1)" font-size="7.55" text-anchor="start" fill="#000" stroke="#000" stroke-width="0.25" font-weight="normal" >AdV</text>
<rect x="392.30" y="545.50" width="5.60" height="5.60" fill="#9a96cc" stroke="none" stroke-width="0" />
<text transform="translate(401.50,551.00) scale(1,1.1)" font-size="7.55" text-anchor="start" fill="#000" stroke="#000" stroke-width="0.25" font-weight="normal" >EBV</text>
<rect x="0.75" y="0.75" width="518.5" height="568.5" fill="none" stroke="#000" stroke-width="1.5"/>
</svg>
</body></html>
